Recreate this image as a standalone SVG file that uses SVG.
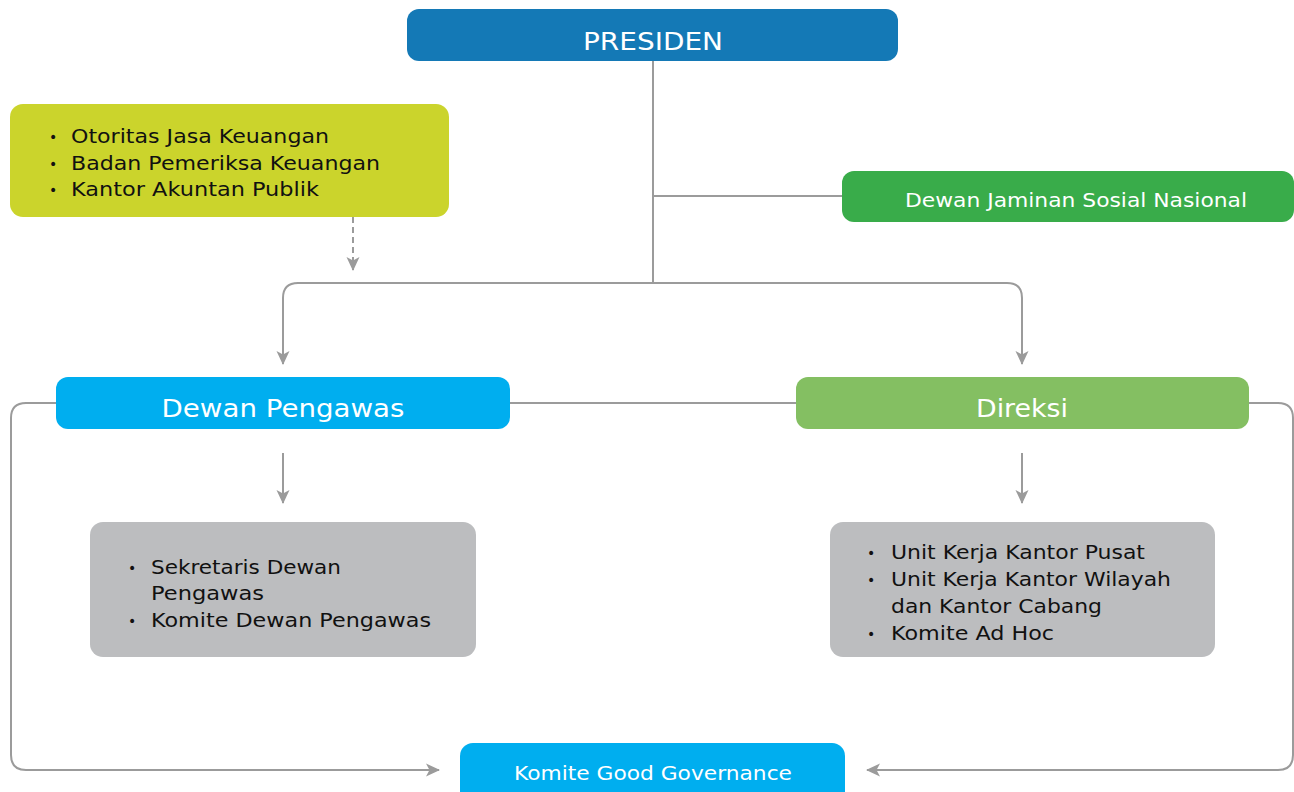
<svg xmlns="http://www.w3.org/2000/svg" width="1294" height="792" viewBox="0 0 1294 792">
<style>
text{font-family:"DejaVu Sans","Noto Sans","Liberation Sans",sans-serif;}
.w{fill:#ffffff;text-anchor:middle;}
.k{fill:#111111;font-size:19.5px;}
.b{fill:#111111;font-size:14px;}
.ln{fill:none;stroke:#9B9B9B;stroke-width:2;}
</style>
<defs>
<marker id="ah" viewBox="0 0 14 14" refX="13" refY="7" markerWidth="14" markerHeight="14" markerUnits="userSpaceOnUse" orient="auto">
<path d="M0,0.5 L14,7 L0,13.5 L3.5,7 Z" fill="#9B9B9B"/>
</marker>
</defs>
<rect width="1294" height="792" fill="#ffffff"/>
<g id="connectors">
<path class="ln" d="M653,61 V283"/>
<path class="ln" d="M653,196 H842"/>
<path class="ln" d="M653,283 H298 Q283,283 283,298 V364" marker-end="url(#ah)"/>
<path class="ln" d="M653,283 H1007 Q1022,283 1022,298 V364" marker-end="url(#ah)"/>
<path class="ln" d="M353,217 V270" stroke-dasharray="6,4" marker-end="url(#ah)"/>
<path class="ln" d="M510,403 H796"/>
<path class="ln" d="M56,403 H26 Q11,403 11,418 V755 Q11,770 26,770 H439" marker-end="url(#ah)"/>
<path class="ln" d="M1249,403 H1278 Q1293,403 1293,418 V755 Q1293,770 1278,770 H867" marker-end="url(#ah)"/>
<path class="ln" d="M283,453 V503" marker-end="url(#ah)"/>
<path class="ln" d="M1022,453 V503" marker-end="url(#ah)"/>
</g>
<g id="presiden">
<rect x="407" y="9" width="491" height="52" rx="12" fill="#1479B6"/>
<text class="w" x="653" y="50" font-size="24" textLength="140" lengthAdjust="spacingAndGlyphs">PRESIDEN</text>
</g>
<g id="pengawas-eksternal">
<rect x="10" y="104" width="439" height="113" rx="13" fill="#CBD42C"/>
<text class="b" x="49" y="142">•</text>
<text class="k" x="71" y="143" textLength="258" lengthAdjust="spacingAndGlyphs">Otoritas Jasa Keuangan</text>
<text class="b" x="49" y="169">•</text>
<text class="k" x="71" y="170" textLength="309" lengthAdjust="spacingAndGlyphs">Badan Pemeriksa Keuangan</text>
<text class="b" x="49" y="195">•</text>
<text class="k" x="71" y="196" textLength="248" lengthAdjust="spacingAndGlyphs">Kantor Akuntan Publik</text>
</g>
<g id="djsn">
<rect x="842" y="171" width="452" height="51" rx="12" fill="#39AC4A"/>
<text class="w" x="1076" y="207" font-size="19.5" textLength="342" lengthAdjust="spacingAndGlyphs">Dewan Jaminan Sosial Nasional</text>
</g>
<g id="dewan-pengawas">
<rect x="56" y="377" width="454" height="52" rx="12" fill="#00AEEF"/>
<text class="w" x="283" y="417" font-size="25" textLength="243" lengthAdjust="spacingAndGlyphs">Dewan Pengawas</text>
</g>
<g id="direksi">
<rect x="796" y="377" width="453" height="52" rx="12" fill="#84BF62"/>
<text class="w" x="1022" y="417" font-size="25" textLength="92" lengthAdjust="spacingAndGlyphs">Direksi</text>
</g>
<g id="organ-dewas">
<rect x="90" y="522" width="386" height="135" rx="13" fill="#BCBDBF"/>
<text class="b" x="128" y="573">•</text>
<text class="k" x="151" y="574" textLength="190" lengthAdjust="spacingAndGlyphs">Sekretaris Dewan</text>
<text class="k" x="151" y="600" textLength="113" lengthAdjust="spacingAndGlyphs">Pengawas</text>
<text class="b" x="128" y="626">•</text>
<text class="k" x="151" y="627" textLength="280" lengthAdjust="spacingAndGlyphs">Komite Dewan Pengawas</text>
</g>
<g id="organ-direksi">
<rect x="830" y="522" width="385" height="135" rx="13" fill="#BCBDBF"/>
<text class="b" x="867" y="558">•</text>
<text class="k" x="891" y="559" textLength="254" lengthAdjust="spacingAndGlyphs">Unit Kerja Kantor Pusat</text>
<text class="b" x="867" y="585">•</text>
<text class="k" x="891" y="586" textLength="280" lengthAdjust="spacingAndGlyphs">Unit Kerja Kantor Wilayah</text>
<text class="k" x="891" y="613" textLength="211" lengthAdjust="spacingAndGlyphs">dan Kantor Cabang</text>
<text class="b" x="867" y="639">•</text>
<text class="k" x="891" y="640" textLength="163" lengthAdjust="spacingAndGlyphs">Komite Ad Hoc</text>
</g>
<g id="komite-gg">
<rect x="460" y="743" width="385" height="62" rx="13" fill="#00AEEF"/>
<text class="w" x="653" y="780" font-size="19.5" textLength="278" lengthAdjust="spacingAndGlyphs">Komite Good Governance</text>
</g>
</svg>
